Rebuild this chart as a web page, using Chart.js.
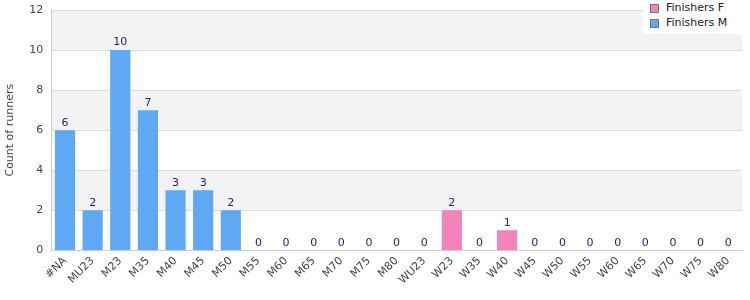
<!DOCTYPE html>
<html>
<head>
<meta charset="utf-8">
<script src="https://cdn.jsdelivr.net/npm/chart.js@4"></script>
<style>
  body { margin: 0; background: #fff; }
  #wrap { position: relative; width: 750px; height: 300px; }
  #legend { position: absolute; left: 643px; top: 0px; width: 99px; height: 34px; background: #fff;
    font: 11px "DejaVu Sans", sans-serif; color: #222; }
  #legend div { position: relative; height: 14px; line-height: 14px; padding-left: 23px; margin-top: 1px; }
  #legend span { position: absolute; left: 7px; top: 3px; width: 7px; height: 7px; border: 1px solid #777; }
</style>
</head>
<body>
<div id="wrap">
  <canvas id="grafico" width="750" height="300"></canvas>
  <div id="legend"></div>
</div>
<script>
var categorias = ['#NA','MU23','M23','M35','M40','M45','M50','M55','M60','M65','M70','M75','M80',
                  'WU23','W23','W35','W40','W45','W50','W55','W60','W65','W70','W75','W80'];
var finishersF = [0,0,0,0,0,0,0,0,0,0,0,0,0,0,2,0,1,0,0,0,0,0,0,0,0];
var finishersM = [6,2,10,7,3,3,2,0,0,0,0,0,0,0,0,0,0,0,0,0,0,0,0,0,0];
var yTicks = [0,2,4,6,8,10,12];

var corF = '#f383bd';
var corM = '#5fa8f4';

// faixas alternadas no fundo
var faixas = {
  id: 'faixas',
  beforeDraw(chart) {
    var ctx = chart.ctx, area = chart.chartArea, y = chart.scales.y;
    ctx.save();
    for (var i = 0; i < yTicks.length - 1; i++) {
      if (i % 2 == 1) {
        ctx.fillStyle = '#f3f3f3';
        var top = y.getPixelForValue(yTicks[i + 1]);
        var bot = y.getPixelForValue(yTicks[i]);
        ctx.fillRect(area.left, top, area.right - area.left, bot - top);
      }
    }
    ctx.restore();
  }
};

// total em cima de cada barra
var totais = {
  id: 'totais',
  afterDatasetsDraw(chart) {
    var ctx = chart.ctx, y = chart.scales.y;
    var meta = chart.getDatasetMeta(1);
    ctx.save();
    ctx.fillStyle = '#1a1a8c';
    ctx.font = '11px "DejaVu Sans", sans-serif';
    ctx.textAlign = 'center';
    ctx.textBaseline = 'bottom';
    categorias.forEach((c, i) => {
      var total = finishersF[i] + finishersM[i];
      var x = meta.data[i].x;
      ctx.fillText(total, x, y.getPixelForValue(total) - 2);
    });
    ctx.restore();
  }
};

var ctx = document.getElementById('grafico');
var chartgraph = new Chart(ctx, {
  type: 'bar',
  data: {
    labels: categorias,
    datasets: [
      { label: 'Finishers F', data: finishersF, backgroundColor: corF, stack: 's' },
      { label: 'Finishers M', data: finishersM, backgroundColor: corM, stack: 's' }
    ]
  },
  options: {
    responsive: false,
    animation: false,
    layout: { padding: { top: 10, right: 8, bottom: 9 } },
    categoryPercentage: 0.73,
    barPercentage: 1,
    plugins: {
      legend: { display: false },
      tooltip: { enabled: false }
    },
    scales: {
      x: {
        stacked: true,
        grid: { display: false, drawTicks: false },
        border: { color: '#cccccc' },
        ticks: {
          color: '#444', autoSkip: false, maxRotation: 45, minRotation: 45, padding: 4,
          font: { family: 'DejaVu Sans', size: 11 }
        }
      },
      y: {
        stacked: true,
        min: 0, max: 12,
        afterBuildTicks(axis) { axis.ticks = yTicks.map(v => ({ value: v })); },
        afterFit(axis) { axis.paddingTop = 0; axis.paddingBottom = 0; },
        grid: { color: '#dddddd', drawTicks: false },
        border: { color: '#cccccc' },
        title: { display: true, text: 'Count of runners', color: '#444', font: { family: 'DejaVu Sans', size: 11 } },
        ticks: { color: '#444', padding: 8, font: { family: 'DejaVu Sans', size: 11 } }
      }
    }
  },
  plugins: [faixas, totais]
});

var legendaHtml = '';
chartgraph.data.datasets.forEach(ds => {
  legendaHtml += '<div><span style="background:' + ds.backgroundColor + '"></span>' + ds.label + '</div>';
});
document.getElementById('legend').innerHTML = legendaHtml;
</script>
</body>
</html>
